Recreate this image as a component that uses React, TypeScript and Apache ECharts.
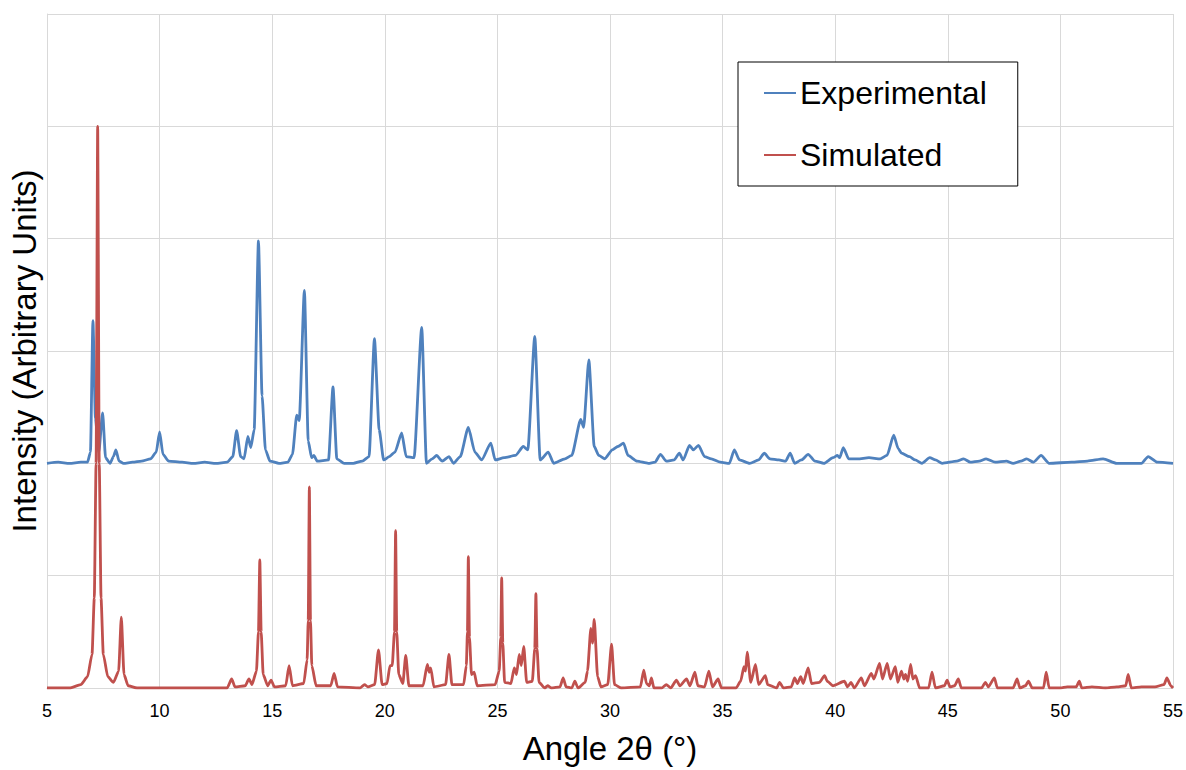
import React, { useEffect, useRef } from "react";
import * as echarts from "echarts";

const seriesNames = ["Experimental", "Simulated"];
const xTickMin = 5;
const xTickMax = 55;
const xTickStep = 5;

// Experimental pattern (offset baseline ~2), [2θ, intensity]
const experimental: number[][] = [
  [5.0, 2.0], [5.5, 2.01], [6.0, 2.0], [6.5, 2.01], [6.8, 2.01], [6.93, 2.1], [7.04, 3.27], [7.15, 2.4],
  [7.3, 2.1], [7.47, 2.45], [7.6, 2.05], [7.8, 2.0], [7.95, 2.06], [8.06, 2.12], [8.2, 2.02], [8.4, 2.0],
  [8.8, 2.01], [9.2, 2.02], [9.6, 2.04], [9.85, 2.1], [10.0, 2.28], [10.15, 2.08], [10.4, 2.02], [11.0, 2.01],
  [11.5, 2.0], [12.0, 2.01], [12.5, 2.0], [13.0, 2.01], [13.25, 2.06], [13.42, 2.29], [13.6, 2.06], [13.75, 2.04],
  [13.92, 2.24], [14.05, 2.14], [14.2, 2.3], [14.39, 3.98], [14.55, 2.6], [14.7, 2.12], [14.9, 2.02], [15.3, 2.0],
  [15.7, 2.01], [15.9, 2.08], [16.09, 2.43], [16.2, 2.38], [16.43, 3.54], [16.6, 2.2], [16.75, 2.05], [16.85, 2.07],
  [17.0, 2.02], [17.5, 2.03], [17.7, 2.68], [17.87, 2.04], [18.2, 2.0], [18.6, 2.0], [19.0, 2.02], [19.3, 2.06],
  [19.54, 3.11], [19.75, 2.3], [19.95, 2.03], [20.2, 2.06], [20.45, 2.1], [20.75, 2.27], [20.95, 2.06], [21.3, 2.05],
  [21.64, 3.21], [21.85, 2.0], [22.1, 2.04], [22.3, 2.07], [22.55, 2.02], [22.85, 2.06], [23.05, 2.0], [23.35, 2.06],
  [23.71, 2.32], [24.0, 2.1], [24.3, 2.03], [24.71, 2.18], [24.9, 2.03], [25.3, 2.05], [25.8, 2.07], [26.15, 2.15],
  [26.35, 2.12], [26.66, 3.13], [26.9, 2.03], [27.26, 2.1], [27.5, 2.0], [28.0, 2.04], [28.3, 2.07], [28.7, 2.39],
  [28.83, 2.32], [29.06, 2.92], [29.3, 2.15], [29.5, 2.07], [29.77, 2.04], [30.1, 2.12], [30.35, 2.15], [30.6, 2.18],
  [30.8, 2.07], [31.2, 2.02], [31.7, 2.0], [32.0, 2.01], [32.24, 2.08], [32.5, 2.02], [32.85, 2.03], [33.08, 2.09],
  [33.25, 2.03], [33.53, 2.16], [33.7, 2.12], [33.93, 2.16], [34.2, 2.06], [34.5, 2.04], [34.9, 2.01], [35.3, 2.0],
  [35.52, 2.12], [35.75, 2.03], [36.2, 2.0], [36.6, 2.03], [36.85, 2.09], [37.1, 2.04], [37.5, 2.03], [37.8, 2.02],
  [38.0, 2.09], [38.2, 2.0], [38.5, 2.03], [38.8, 2.08], [39.1, 2.02], [39.5, 2.0], [39.9, 2.05], [40.1, 2.07],
  [40.2, 2.05], [40.36, 2.14], [40.6, 2.04], [41.0, 2.04], [41.5, 2.05], [42.0, 2.04], [42.3, 2.07], [42.6, 2.25],
  [42.8, 2.13], [42.95, 2.09], [43.3, 2.06], [43.55, 2.03], [43.85, 2.0], [44.2, 2.05], [44.45, 2.03], [44.75, 2.0],
  [45.4, 2.02], [45.7, 2.04], [46.0, 2.01], [46.4, 2.02], [46.7, 2.04], [47.1, 2.01], [47.6, 2.02], [47.9, 2.0],
  [48.25, 2.02], [48.5, 2.04], [48.8, 2.01], [49.14, 2.07], [49.5, 2.0], [50.5, 2.01], [51.2, 2.02], [51.9, 2.04],
  [52.5, 2.0], [53.6, 2.0], [53.9, 2.06], [54.3, 2.01], [55.0, 2.0],
];

// Simulated pattern, [2θ, intensity]
const simulated: number[][] = [
  [5.0, 0], [6.0, 0.0], [6.5, 0.03], [6.8, 0.1], [7.0, 0.3], [7.1, 0.8], [7.18, 2.0], [7.25, 5.0],
  [7.32, 2.0], [7.4, 0.8], [7.5, 0.3], [7.7, 0.1], [7.95, 0.05], [8.18, 0.15], [8.3, 0.63], [8.42, 0.12],
  [8.6, 0.02], [9.0, 0], [13.0, 0], [13.2, 0.08], [13.35, 0.01], [13.8, 0.02], [13.97, 0.08], [14.1, 0.03],
  [14.3, 0.15], [14.39, 0.5], [14.45, 1.14], [14.51, 0.5], [14.6, 0.12], [14.8, 0.02], [14.95, 0.07], [15.1, 0.01],
  [15.6, 0.02], [15.75, 0.2], [15.9, 0.02], [16.4, 0.04], [16.55, 0.25], [16.6, 0.6], [16.65, 1.79], [16.7, 0.6],
  [16.76, 0.2], [16.95, 0.02], [17.6, 0.02], [17.75, 0.13], [17.9, 0.01], [18.9, 0.0], [19.1, 0.03], [19.25, 0.01],
  [19.55, 0.03], [19.72, 0.34], [19.88, 0.03], [20.1, 0.04], [20.23, 0.2], [20.33, 0.2], [20.43, 0.5], [20.48, 1.4],
  [20.53, 0.5], [20.62, 0.12], [20.8, 0.04], [20.93, 0.29], [21.07, 0.02], [21.7, 0.02], [21.89, 0.21], [21.97, 0.14],
  [22.04, 0.18], [22.18, 0.01], [22.7, 0.03], [22.85, 0.3], [22.98, 0.03], [23.5, 0.03], [23.62, 0.2], [23.67, 0.5],
  [23.71, 1.17], [23.76, 0.45], [23.85, 0.12], [23.97, 0.14], [24.1, 0.02], [24.9, 0.03], [25.08, 0.15], [25.15, 0.45],
  [25.19, 0.98], [25.24, 0.4], [25.32, 0.05], [25.6, 0.04], [25.75, 0.18], [25.85, 0.12], [25.97, 0.3], [26.06, 0.2],
  [26.17, 0.37], [26.3, 0.05], [26.55, 0.06], [26.66, 0.35], [26.71, 0.84], [26.76, 0.35], [26.85, 0.05], [27.1, 0.0],
  [27.23, 0.02], [27.4, 0.0], [27.78, 0.01], [27.92, 0.09], [28.05, 0.01], [28.3, 0.0], [28.44, 0.06], [28.58, 0.0],
  [28.9, 0.05], [29.0, 0.15], [29.15, 0.53], [29.22, 0.4], [29.3, 0.61], [29.45, 0.1], [29.6, 0.01], [29.9, 0.03],
  [30.07, 0.39], [30.2, 0.03], [30.5, 0.0], [31.35, 0.01], [31.5, 0.16], [31.62, 0.04], [31.75, 0.02], [31.84, 0.09],
  [31.95, 0.0], [32.3, 0.0], [32.5, 0.03], [32.7, 0.0], [32.95, 0.07], [33.1, 0.02], [33.4, 0.08], [33.55, 0.02],
  [33.77, 0.14], [33.9, 0.02], [34.2, 0.01], [34.39, 0.15], [34.55, 0.01], [34.8, 0.08], [34.95, 0.0], [35.6, 0.0],
  [35.8, 0.06], [35.95, 0.19], [36.02, 0.15], [36.09, 0.32], [36.25, 0.05], [36.46, 0.21], [36.6, 0.03], [36.9, 0.11],
  [37.0, 0.03], [37.4, 0.0], [37.53, 0.05], [37.7, 0.0], [38.05, 0.01], [38.2, 0.09], [38.32, 0.04], [38.47, 0.1],
  [38.58, 0.04], [38.8, 0.18], [38.95, 0.04], [39.3, 0.05], [39.53, 0.11], [39.65, 0.06], [39.9, 0.02], [40.41, 0.06],
  [40.55, 0.01], [40.7, 0.05], [40.85, 0.0], [41.16, 0.09], [41.3, 0.02], [41.6, 0.13], [41.72, 0.08], [41.97, 0.22],
  [42.1, 0.08], [42.31, 0.22], [42.45, 0.08], [42.67, 0.19], [42.78, 0.05], [42.94, 0.15], [43.05, 0.08], [43.12, 0.12],
  [43.22, 0.06], [43.35, 0.21], [43.45, 0.08], [43.57, 0.11], [43.75, 0.0], [44.15, 0.0], [44.3, 0.14], [44.45, 0.0],
  [44.85, 0.02], [44.97, 0.07], [45.1, 0.01], [45.3, 0.02], [45.47, 0.08], [45.6, 0.0], [46.5, 0.0], [46.67, 0.05],
  [46.8, 0.01], [47.07, 0.09], [47.2, 0.0], [47.9, 0.0], [48.08, 0.08], [48.2, 0.0], [48.45, 0.02], [48.58, 0.06],
  [48.75, 0.0], [49.25, 0.0], [49.37, 0.14], [49.5, 0.0], [50.0, 0.0], [50.3, 0.01], [50.7, 0.01], [50.84, 0.06],
  [50.95, 0.0], [51.4, 0.01], [52.0, 0.0], [52.5, 0.01], [52.9, 0.02], [53.01, 0.12], [53.15, 0.0], [53.6, 0.01],
  [54.2, 0.01], [54.6, 0.03], [54.73, 0.09], [54.9, 0.02], [55.0, 0.0],
];

const FONT = "'Liberation Sans', Arial, sans-serif";

export default function App() {
  const ref = useRef<HTMLDivElement>(null);
  useEffect(() => {
    if (!ref.current) return;
    const chart = echarts.init(ref.current, undefined, { renderer: "svg" });
    chart.setOption({
      animation: false,
      backgroundColor: "#ffffff",
      grid: { left: 43, right: 12, top: 14, bottom: 70, containLabel: false },
      legend: {
        data: seriesNames,
        orient: "vertical",
        left: 738,
        top: 62,
        backgroundColor: "#ffffff",
        borderColor: "#000000",
        borderWidth: 1,
        borderRadius: 0,
        padding: [14, 31, 14, 26],
        itemGap: 28,
        itemWidth: 32,
        itemHeight: 2,
        icon: "rect",
        textStyle: { fontSize: 32, color: "#000000", fontFamily: FONT, lineHeight: 34, padding: [0, 0, 0, -1] },
      },
      xAxis: {
        type: "value",
        min: xTickMin,
        max: xTickMax,
        interval: xTickStep,
        name: "Angle 2θ (°)",
        nameLocation: "middle",
        nameGap: 44,
        nameTextStyle: { fontSize: 33, color: "#000000", fontFamily: FONT },
        axisLine: { show: true, lineStyle: { color: "#d9d9d9", width: 1 } },
        axisTick: { show: false },
        axisLabel: { fontSize: 18, color: "#000000", fontFamily: FONT, margin: 14 },
        splitLine: { show: true, lineStyle: { color: "#d9d9d9", width: 1 } },
      },
      yAxis: {
        type: "value",
        min: 0,
        max: 6,
        interval: 1,
        name: "Intensity (Arbitrary Units)",
        nameLocation: "middle",
        nameGap: 6,
        nameTextStyle: { fontSize: 33, color: "#000000", fontFamily: FONT },
        axisLine: { show: true, lineStyle: { color: "#d9d9d9", width: 1 } },
        axisTick: { show: false },
        axisLabel: { show: false },
        splitLine: { show: true, lineStyle: { color: "#d9d9d9", width: 1 } },
      },
      series: [
        {
          name: seriesNames[0],
          type: "line",
          data: experimental,
          showSymbol: false,
          symbol: "none",
          smooth: 0.2,
          smoothMonotone: "x",
          lineStyle: { color: "#4f81bd", width: 2.8 },
          itemStyle: { color: "#4f81bd" },
          z: 2,
        },
        {
          name: seriesNames[1],
          type: "line",
          data: simulated,
          showSymbol: false,
          symbol: "none",
          smooth: 0.2,
          smoothMonotone: "x",
          lineStyle: { color: "#c0504d", width: 2.8 },
          itemStyle: { color: "#c0504d" },
          z: 3,
        },
      ],
    });
    return () => chart.dispose();
  }, []);
  return (
    <div
      ref={ref}
      style={{ position: "fixed", left: 0, top: 0, width: 1186, height: 770, background: "#fff" }}
    />
  );
}
